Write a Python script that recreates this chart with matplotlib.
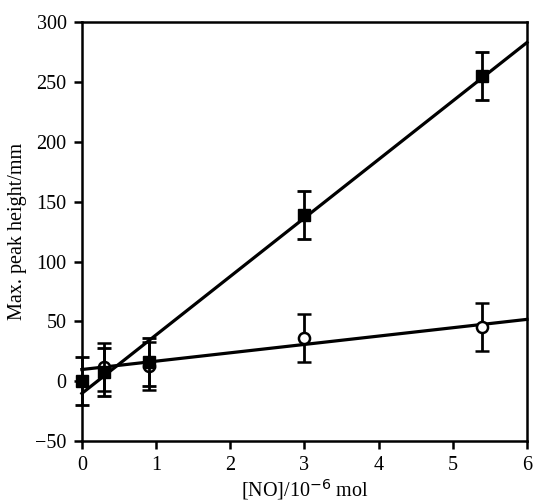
import matplotlib

matplotlib.use("Agg")

import matplotlib.pyplot as plt
import numpy as np

plt.rcParams["font.family"] = ["Liberation Serif", "DejaVu Serif"]

# NO amount (10^-6 mol)
no_filled = [0.0, 0.3, 0.9, 3.0, 5.4]
no_open = [0.3, 0.9, 3.0, 5.4]

# filled squares
peak_filled = [0, 8, 16, 139, 255]
err_filled = [20, 20, 20, 20, 20]

# open circles
peak_open = [12, 13, 36, 45]
err_open = [20, 20, 20, 20]

x_ticks = [0, 1, 2, 3, 4, 5, 6]
y_ticks = [-50, 0, 50, 100, 150, 200, 250, 300]

fig = plt.figure(figsize=(5.35, 5.04), dpi=100)
ax = fig.add_axes([0.153, 0.125, 0.832, 0.831])

xfit = np.array([0.0, 6.0])
for xs, ys in ((no_filled, peak_filled), (no_open, peak_open)):
    k, b = np.polyfit(xs, ys, 1)
    ax.plot(xfit, k * xfit + b, color="black", lw=2.3, zorder=2, clip_on=False)

ax.errorbar(no_open, peak_open, yerr=err_open, fmt="o", ms=8,
            mfc="white", mec="black", mew=1.8, ecolor="black",
            elinewidth=2, capsize=5, capthick=2, zorder=3, clip_on=False)
ax.errorbar(no_filled, peak_filled, yerr=err_filled, fmt="s", ms=9,
            mfc="black", mec="black", ecolor="black",
            elinewidth=2, capsize=5, capthick=2, zorder=4, clip_on=False)

ax.set_xlim(0, 6)
ax.set_ylim(-50, 300)
ax.set_xticks(x_ticks)
ax.set_yticks(y_ticks)
ax.set_yticklabels(["\u221250" if v < 0 else str(v) for v in y_ticks])
ax.tick_params(direction="out", length=6, width=1.8, labelsize=14.5, pad=5)
for s in ax.spines.values():
    s.set_linewidth(1.8)

ax.set_xlabel("[NO]/10$^{-6}$ mol", fontsize=14.5, labelpad=1)
ax.set_ylabel("Max. peak height/mm", fontsize=14.5, labelpad=6)

fig.savefig("out.png", dpi=100)
